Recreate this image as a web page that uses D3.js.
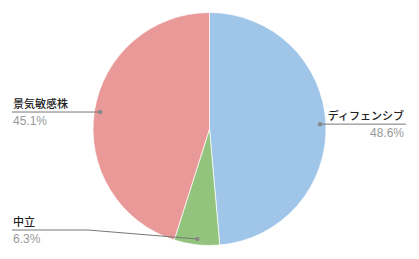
<!DOCTYPE html>
<html>
<head>
<meta charset="utf-8">
<script src="https://cdn.jsdelivr.net/npm/d3@7"></script>
<style>
  html, body { margin: 0; padding: 0; background: #fff; }
  svg { display: block; font-family: "Liberation Sans", Arial, "Noto Sans CJK JP", sans-serif; }
</style>
</head>
<body>
<script>
const categories = ["ディフェンシブ", "中立", "景気敏感株"];
const shares = [48.6, 6.3, 45.1];
const pctLabels = ["48.6%", "6.3%", "45.1%"];
const sliceColors = ["#9fc5e8", "#93c47d", "#ea9999"];

const width = 419;
const height = 259;
const cx = 209.5;
const cy = 129;
const radius = 116.5;

const data = categories.map((c, i) => ({ name: c, value: shares[i], pct: pctLabels[i], color: sliceColors[i] }));

const svg = d3.select("body").append("svg")
  .attr("width", width)
  .attr("height", height);

const pie = d3.pie().value(d => d.value).sort(null);
const arc = d3.arc().innerRadius(0).outerRadius(radius);
const anchorArc = d3.arc().innerRadius(radius * 0.95).outerRadius(radius * 0.95);

const arcs = pie(data);

const g = svg.append("g").attr("transform", `translate(${cx},${cy})`);

g.selectAll("path")
  .data(arcs)
  .enter()
  .append("path")
  .attr("d", arc)
  .attr("fill", d => d.data.color)
  .attr("stroke", "#fff")
  .attr("stroke-width", 0.7);

// leader lines and labels
const leftX = 12;
const rightX = 406;
const maxLineY = 230;

arcs.forEach(d => {
  const [ax, ay] = anchorArc.centroid(d);
  const px = cx + ax;
  const py = cy + ay;
  const right = px > cx + 5;
  const ly = Math.min(py, maxLineY);
  const endX = right ? rightX : leftX;

  let pts;
  if (ly === py) {
    pts = [[endX, ly], [px, py]];
  } else {
    pts = [[endX, ly], [88, ly], [px, py]];
  }

  svg.append("path")
    .attr("d", d3.line()(pts))
    .attr("fill", "none")
    .attr("stroke", "#777")
    .attr("stroke-width", 1);

  svg.append("circle")
    .attr("cx", px)
    .attr("cy", py)
    .attr("r", 2.2)
    .attr("fill", "#888");

  const tx = right ? rightX - 2 : leftX + 1;
  const anchor = right ? "end" : "start";

  svg.append("text")
    .attr("x", tx)
    .attr("y", ly - 4)
    .attr("text-anchor", anchor)
    .attr("font-size", 11)
    .attr("font-weight", 500)
    .attr("fill", "#222")
    .text(d.data.name);

  svg.append("text")
    .attr("x", tx)
    .attr("y", ly + 12.5)
    .attr("text-anchor", anchor)
    .attr("font-size", 12)
    .attr("fill", "#999")
    .text(d.data.pct);
});
</script>
</body>
</html>
